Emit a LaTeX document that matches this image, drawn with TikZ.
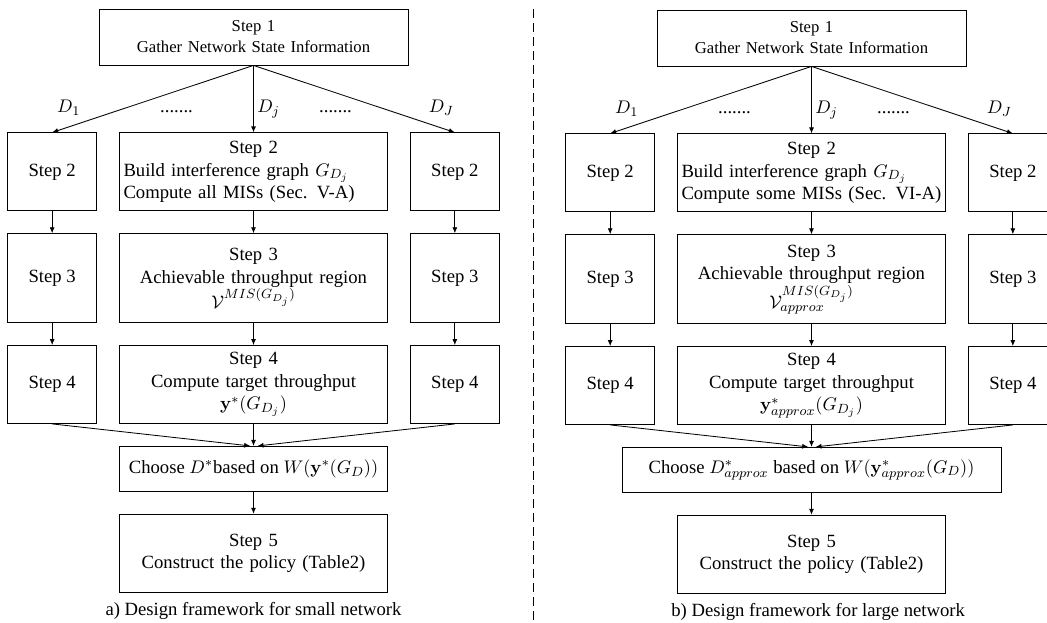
\documentclass[tikz,border=0pt]{standalone}
\usepackage[no-math]{fontspec}
\setmainfont{Liberation Serif}
\usetikzlibrary{positioning,arrows.meta}

\newcommand{\leftrow}[1]{\makebox[\linewidth][l]{#1}}

\begin{document}
\begin{tikzpicture}[%
	top node/.style={
		rectangle,
		draw,
		minimum width=185.4pt,
		minimum height=33.6pt,
		inner sep=0pt,
		text width=180pt,
		align=center,
		font=\fontsize{10pt}{12.6pt}\selectfont
	},
	main node/.style={
		rectangle,
		draw,
		minimum width=160.8pt,
		minimum height=46.8pt,
		inner sep=0pt,
		text width=156pt,
		align=center,
		font=\fontsize{11.2pt}{13.5pt}\selectfont
	},
	side node/.style={
		rectangle,
		draw,
		minimum width=53.4pt,
		minimum height=46.8pt,
		inner sep=0pt,
		align=center,
		font=\fontsize{11.2pt}{13.5pt}\selectfont
	},
	choose node/.style={
		rectangle,
		draw,
		minimum width=160.8pt,
		minimum height=27pt,
		inner sep=0pt,
		font=\fontsize{11.2pt}{13.5pt}\selectfont
	},
	branch label/.style={anchor=base, inner sep=0pt, font=\fontsize{11.2pt}{13.5pt}\selectfont},
	cap node/.style={inner sep=0pt, font=\fontsize{11.2pt}{13.5pt}\selectfont},
	divider/.style={dash pattern=on 5.4pt off 3pt, line width=0.6pt},
	line width=0.5pt,
	>={Latex[length=3.6pt,width=3pt]},
]
	\useasboundingbox (0,0) rectangle (628.2pt,-373.2pt);

	% a) small network
	\node[top node] (a1) at (152.1pt,-22.2pt) {Step 1\\ Gather Network State Information};
	\node[main node] (a2) [below=40.2pt of a1] {Step 2\\ \leftrow{Build interference graph $G_{D_j}$}\\ \leftrow{Compute all MISs (Sec. V-A)}};
	\node[side node] (a2l) [left=13.2pt of a2] {Step 2};
	\node[side node] (a2r) [right=13.2pt of a2] {Step 2};
	\node[main node, minimum height=53.4pt] (a3) [below=13.2pt of a2] {Step 3\\ Achievable throughput region\\ $\mathcal{V}^{MIS(G_{D_j})}$};
	\node[side node, minimum height=53.4pt] (a3l) [left=13.2pt of a3] {Step 3};
	\node[side node, minimum height=53.4pt] (a3r) [right=13.2pt of a3] {Step 3};
	\node[main node] (a4) [below=13.2pt of a3] {Step 4\\ Compute target throughput\\ $\mathbf{y}^*(G_{D_j})$};
	\node[side node] (a4l) [left=13.2pt of a4] {Step 4};
	\node[side node] (a4r) [right=13.2pt of a4] {Step 4};
	\node[choose node] (a5) [below=13.2pt of a4] {Choose $D^*$based on $W(\mathbf{y}^*(G_D))$};
	\node[main node] (a6) [below=13.2pt of a5] {Step 5\\ Construct the policy (Table2)};
	\node[cap node] (acap) [below=5.5pt of a6] {a) Design framework for small network};
	\node[branch label] (ad1) at ([xshift=9.9pt,yshift=12pt]a2l.north) {$D_1$};
	\node[branch label] (adots1) at ([xshift=-46.2pt,yshift=12pt]a2.north) {.......};
	\node[branch label] (adj) at ([xshift=9pt,yshift=12pt]a2.north) {$D_j$};
	\node[branch label] (adots2) at ([xshift=49.2pt,yshift=12pt]a2.north) {.......};
	\node[branch label] (adJ) at ([xshift=-8.1pt,yshift=12pt]a2r.north) {$D_J$};
	\path[->]
	(a1.south) edge (a2l.north)
	(a1.south) edge (a2.north)
	(a1.south) edge (a2r.north)
	(a2l) edge (a3l)
	(a2) edge (a3)
	(a2r) edge (a3r)
	(a3l) edge (a4l)
	(a3) edge (a4)
	(a3r) edge (a4r)
	(a4l.south) edge ([xshift=-2pt]a5.north)
	(a4) edge (a5)
	(a4r.south) edge ([xshift=2.4pt]a5.north)
	(a5) edge (a6);

	\draw[divider] (320.1pt,-5.4pt) -- (320.1pt,-373.2pt);

	% b) large network
	\begin{scope}[xshift=334.8pt]
	\node[top node] (b1) at (152.1pt,-22.8pt) {Step 1\\ Gather Network State Information};
	\node[main node] (b2) [below=40.2pt of b1] {Step 2\\ \leftrow{Build interference graph $G_{D_j}$}\\ \leftrow{Compute some MISs (Sec. VI-A)}};
	\node[side node] (b2l) [left=13.2pt of b2] {Step 2};
	\node[side node] (b2r) [right=13.2pt of b2] {Step 2};
	\node[main node, minimum height=53.4pt] (b3) [below=13.2pt of b2] {Step 3\\ Achievable throughput region\\ $\mathcal{V}^{MIS(G_{D_j})}_{approx}$};
	\node[side node, minimum height=53.4pt] (b3l) [left=13.2pt of b3] {Step 3};
	\node[side node, minimum height=53.4pt] (b3r) [right=13.2pt of b3] {Step 3};
	\node[main node] (b4) [below=13.2pt of b3] {Step 4\\ Compute target throughput\\ $\mathbf{y}^*_{approx}(G_{D_j})$};
	\node[side node] (b4l) [left=13.2pt of b4] {Step 4};
	\node[side node] (b4r) [right=13.2pt of b4] {Step 4};
	\node[choose node, minimum width=227.4pt] (b5) [below=13.2pt of b4] {Choose $D^*_{approx}$ based on $W(\mathbf{y}^*_{approx}(G_D))$};
	\node[main node] (b6) [below=13.2pt of b5] {Step 5\\ Construct the policy (Table2)};
	\node[cap node, xshift=4pt] (bcap) [below=5.5pt of b6] {b) Design framework for large network};
	\node[branch label] (bd1) at ([xshift=9.9pt,yshift=12pt]b2l.north) {$D_1$};
	\node[branch label] (bdots1) at ([xshift=-46.2pt,yshift=12pt]b2.north) {.......};
	\node[branch label] (bdj) at ([xshift=9pt,yshift=12pt]b2.north) {$D_j$};
	\node[branch label] (bdots2) at ([xshift=49.2pt,yshift=12pt]b2.north) {.......};
	\node[branch label] (bdJ) at ([xshift=-8.1pt,yshift=12pt]b2r.north) {$D_J$};
	\path[->]
	(b1.south) edge (b2l.north)
	(b1.south) edge (b2.north)
	(b1.south) edge (b2r.north)
	(b2l) edge (b3l)
	(b2) edge (b3)
	(b2r) edge (b3r)
	(b3l) edge (b4l)
	(b3) edge (b4)
	(b3r) edge (b4r)
	(b4l.south) edge ([xshift=-2pt]b5.north)
	(b4) edge (b5)
	(b4r.south) edge ([xshift=2.4pt]b5.north)
	(b5) edge (b6);
	\end{scope}
\end{tikzpicture}
\end{document}
